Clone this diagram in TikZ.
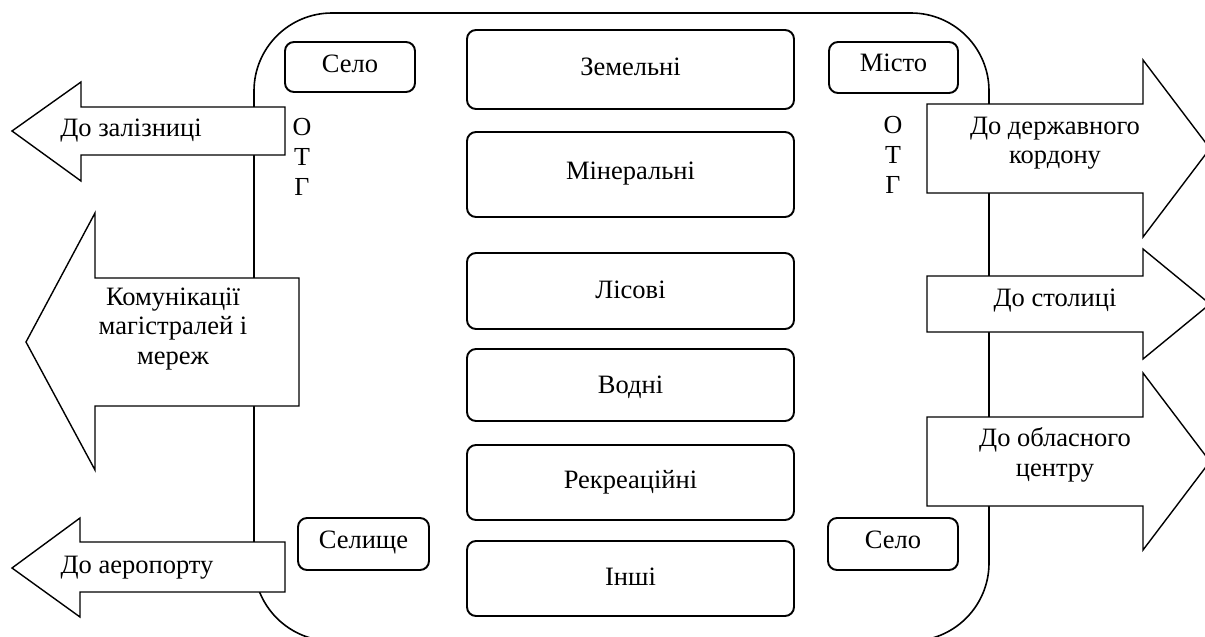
\documentclass[tikz,border=0pt]{standalone}
\usepackage{fontspec}
\setmainfont{Liberation Serif}
\begin{document}
\begin{tikzpicture}[x=1pt,y=-1pt,
  rbox/.style={draw, rounded corners=9pt, line width=1.9pt, inner sep=0pt},
  txt/.style={anchor=base, inner sep=0pt, font=\fontsize{26.5}{29}\selectfont},
  arr/.style={draw, fill=white, line width=1.4pt, line join=miter},
  lbl/.style={align=center, inner sep=0pt, font=\fontsize{26.5}{29.5}\selectfont},
  otg/.style={align=center, inner sep=0pt, font=\fontsize{26}{30}\selectfont}]
\useasboundingbox (0,0) rectangle (1205,637);
\clip (0,0) rectangle (1205,637);
% outer rounded frame
\draw[line width=1.6pt, rounded corners=78pt] (254,13) rectangle (989,641);
% left arrows
\draw[arr] (12,131) -- (81,82) -- (81,107) -- (285,107) -- (285,155) -- (81,155) -- (81,181) -- cycle;
\draw[arr] (26,342) -- (95,213) -- (95,278) -- (299,278) -- (299,406) -- (95,406) -- (95,470) -- cycle;
\draw[arr] (12,568) -- (80,518) -- (80,542) -- (285,542) -- (285,592) -- (80,592) -- (80,617) -- cycle;
% right arrows
\draw[arr] (1210,148.5) -- (1143,60) -- (1143,104) -- (927,104) -- (927,193) -- (1143,193) -- (1143,237) -- cycle;
\draw[arr] (1210,304) -- (1143,249) -- (1143,276) -- (927,276) -- (927,332) -- (1143,332) -- (1143,359) -- cycle;
\draw[arr] (1210,461.5) -- (1143,373) -- (1143,417) -- (927,417) -- (927,506) -- (1143,506) -- (1143,550) -- cycle;
% arrow labels
\node[lbl] (zal) at (131,131) {До залізниці};
\node[lbl] (kom) at (173,329) {Комунікації\\магістралей і\\мереж};
\node[lbl] (aer) at (137,568) {До аеропорту};
\node[lbl] (kor) at (1055,143) {До державного\\кордону};
\node[lbl] (sto) at (1055,301) {До столиці};
\node[lbl] (obl) at (1055,455) {До обласного\\центру};
% OTG
\node[otg] (otgl) at (302,157) {О\\Т\\Г};
\node[otg] (otgr) at (893,155) {О\\Т\\Г};
% small boxes
\node[rbox, minimum width=130pt, minimum height=50pt] (selo1) at (350,67) {};
\node[rbox, minimum width=129pt, minimum height=51pt] (misto) at (893.5,67.5) {};
\node[rbox, minimum width=131pt, minimum height=52pt] (selysh) at (363.5,544) {};
\node[rbox, minimum width=130pt, minimum height=52pt] (selo2) at (893,544) {};
\node[txt] (selo1t) at ([yshift=-5pt]selo1.center) {Село};
\node[txt] (mistot) at ([yshift=-4pt]misto.center) {Місто};
\node[txt] (selysht) at ([yshift=-4pt]selysh.center) {Селище};
\node[txt] (selo2t) at ([yshift=-4pt]selo2.center) {Село};
% central boxes
\node[rbox, minimum width=327pt, minimum height=79pt] (zem) at (630.5,69.5) {};
\node[rbox, minimum width=327pt, minimum height=85pt] (min) at (630.5,174.5) {};
\node[rbox, minimum width=327pt, minimum height=76pt] (lis) at (630.5,291) {};
\node[rbox, minimum width=327pt, minimum height=72pt] (vod) at (630.5,385) {};
\node[rbox, minimum width=327pt, minimum height=75pt] (rek) at (630.5,482.5) {};
\node[rbox, minimum width=327pt, minimum height=75pt] (insh) at (630.5,578.5) {};
\node[txt] (zemt) at ([yshift=-6pt]zem.center) {Земельні};
\node[txt] (mint) at ([yshift=-5pt]min.center) {Мінеральні};
\node[txt] (list) at ([yshift=-7pt]lis.center) {Лісові};
\node[txt] (vodt) at ([yshift=-8pt]vod.center) {Водні};
\node[txt] (rekt) at ([yshift=-6pt]rek.center) {Рекреаційні};
\node[txt] (insht) at ([yshift=-6.5pt]insh.center) {Інші};
\end{tikzpicture}
\end{document}
